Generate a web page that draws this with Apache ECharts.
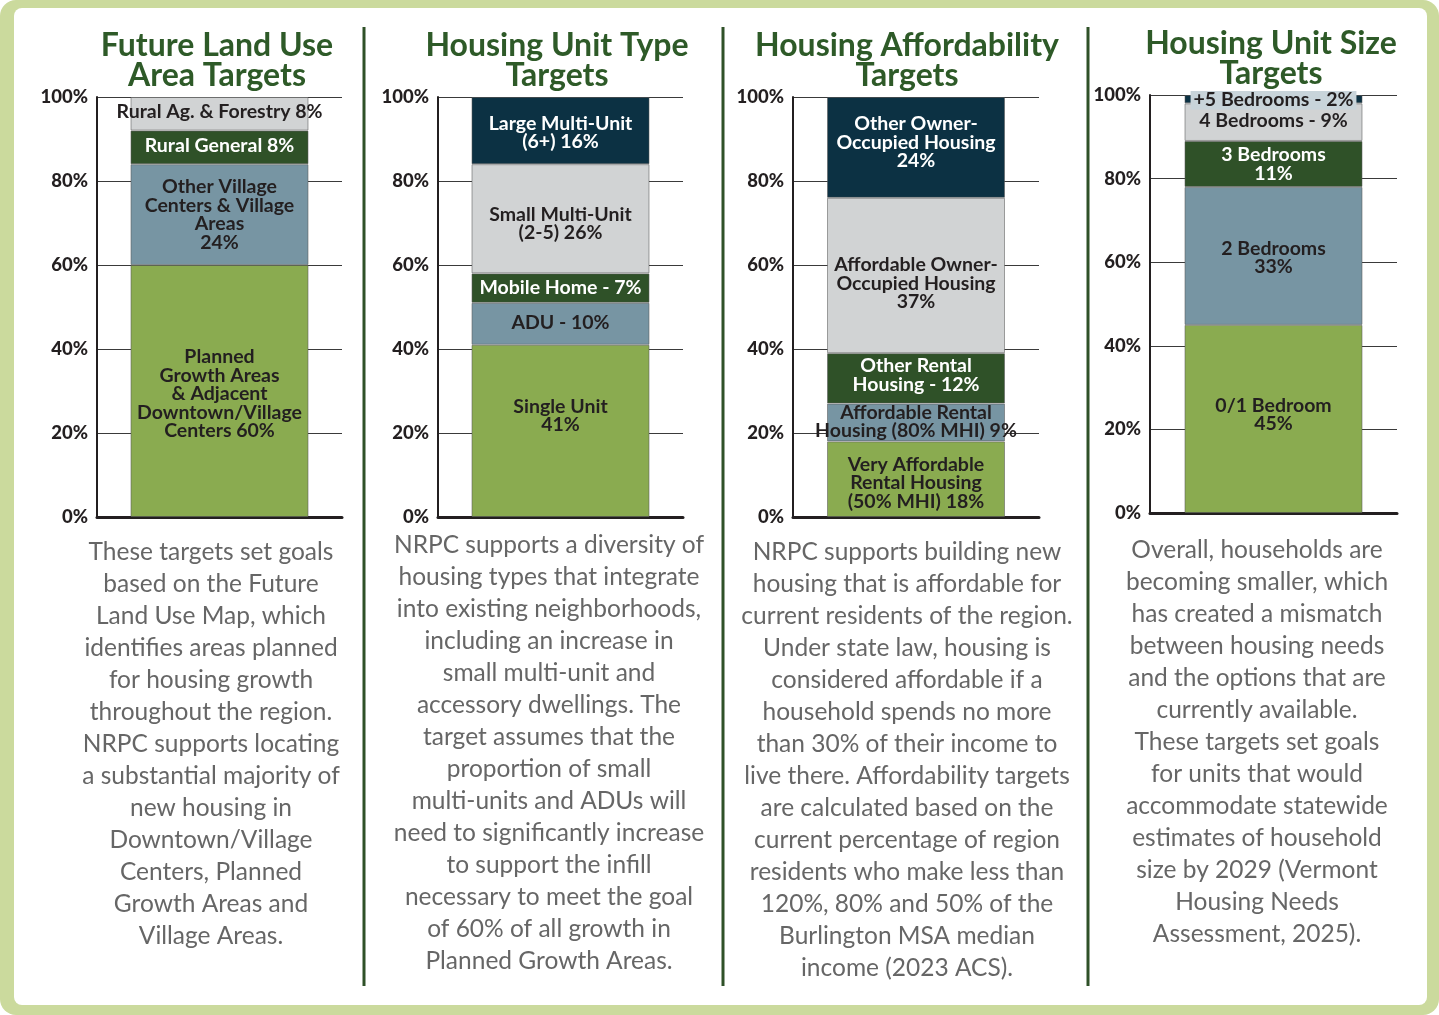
<!DOCTYPE html>
<html>
<head>
<meta charset="utf-8">
<script src="https://cdn.jsdelivr.net/npm/echarts@6/dist/echarts.min.js"></script>
<style>
  html, body { margin: 0; padding: 0; background: #fff; }
  #outer { position: absolute; left: 0; top: 0; width: 1439px; height: 1015px; background: #cbda9d; border-radius: 16px; }
  #inner { position: absolute; left: 14px; top: 8px; width: 1413px; height: 997px; background: #fff; border-radius: 8px; }
  #chart { position: absolute; left: 0; top: 0; width: 1439px; height: 1015px; }
</style>
</head>
<body>
<div id="outer"></div>
<div id="inner"></div>
<div id="chart"></div>
<script>
// ---------- DATA ----------
const panelTitles = [
  'Future Land Use\nArea Targets',
  'Housing Unit Type\nTargets',
  'Housing Affordability\nTargets',
  'Housing Unit Size\nTargets'
];

const yTickValues = [0, 20, 40, 60, 80, 100];

const landUseValues = [60, 24, 8, 8];
const landUseLabels = [
  'Planned\nGrowth Areas\n& Adjacent\nDowntown/Village\nCenters 60%',
  'Other Village\nCenters & Village\nAreas\n24%',
  'Rural General 8%',
  'Rural Ag. & Forestry 8%'
];

const unitTypeValues = [41, 10, 7, 26, 16];
const unitTypeLabels = [
  'Single Unit\n41%',
  'ADU - 10%',
  'Mobile Home - 7%',
  'Small Multi-Unit\n(2-5) 26%',
  'Large Multi-Unit\n(6+) 16%'
];

const affordabilityValues = [18, 9, 12, 37, 24];
const affordabilityLabels = [
  'Very Affordable\nRental Housing\n(50% MHI) 18%',
  'Affordable Rental\nHousing (80% MHI) 9%',
  'Other Rental\nHousing - 12%',
  'Affordable Owner-\nOccupied Housing\n37%',
  'Other Owner-\nOccupied Housing\n24%'
];

const unitSizeValues = [45, 33, 11, 9, 2];
const unitSizeLabels = [
  '0/1 Bedroom\n45%',
  '2 Bedrooms\n33%',
  '3 Bedrooms\n11%',
  '4 Bedrooms - 9%',
  '+5 Bedrooms - 2%'
];

const descriptions = [
  'These targets set goals\nbased on the Future\nLand Use Map, which\nidentifies areas planned\nfor housing growth\nthroughout the region.\nNRPC supports locating\na substantial majority of\nnew housing in\nDowntown/Village\nCenters, Planned\nGrowth Areas and\nVillage Areas.',
  'NRPC supports a diversity of\nhousing types that integrate\ninto existing neighborhoods,\nincluding an increase in\nsmall multi-unit and\naccessory dwellings. The\ntarget assumes that the\nproportion of small\nmulti-units and ADUs will\nneed to significantly increase\nto support the infill\nnecessary to meet the goal\nof 60% of all growth in\nPlanned Growth Areas.',
  'NRPC supports building new\nhousing that is affordable for\ncurrent residents of the region.\nUnder state law, housing is\nconsidered affordable if a\nhousehold spends no more\nthan 30% of their income to\nlive there. Affordability targets\nare calculated based on the\ncurrent percentage of region\nresidents who make less than\n120%, 80% and 50% of the\nBurlington MSA median\nincome (2023 ACS).',
  'Overall, households are\nbecoming smaller, which\nhas created a mismatch\nbetween housing needs\nand the options that are\ncurrently available.\nThese targets set goals\nfor units that would\naccommodate statewide\nestimates of household\nsize by 2029 (Vermont\nHousing Needs\nAssessment, 2025).'
];

// ---------- STYLE ----------
const C_GREEN = '#8aab50', C_BLUE = '#7795a3', C_DKGREEN = '#2f5128', C_GRAY = '#d1d3d4', C_NAVY = '#0c3143';
const segColors = [C_GREEN, C_BLUE, C_DKGREEN, C_GRAY, C_NAVY];
const segTextColors = ['#231f20', '#231f20', '#ffffff', '#231f20', '#ffffff'];
const TITLE_COLOR = '#2e5a28';
const DESC_COLOR = '#666666';
const FONT = 'Lato, "Open Sans", sans-serif';

const grids = [
  { left: 97,  top: 97, width: 245, height: 420 },
  { left: 438, top: 97, width: 245, height: 420 },
  { left: 793, top: 97, width: 246, height: 420 },
  { left: 1150, top: 95, width: 247, height: 418 }
];
const titleCenters = [217, 557, 907, 1271];
const titleTops = [31, 31, 31, 29];
const descCenters = [211, 549, 907, 1257];
const descTops = [536, 529, 536, 534];
const separatorsX = [364, 723, 1088];

const labelOffsets = [
  [[0, 3], [0, 0], [0, -2], [0, -2]],
  [[0, -15], [0, -1], [0, 0], [0, 5], [0, 2]],
  [[0, 4], [0, -1], [0, -3], [0, 8], [0, -5]],
  [[0, -4], [0, 2], [0, 0], [0, -1], [0, 1]]
];

const panelValues = [landUseValues, unitTypeValues, affordabilityValues, unitSizeValues];
const panelLabels = [landUseLabels, unitTypeLabels, affordabilityLabels, unitSizeLabels];

// ---------- BUILD ----------
const chart = echarts.init(document.getElementById('chart'), null, { renderer: 'canvas' });

const title = [];
panelTitles.forEach((t, i) => {
  title.push({
    text: t, left: titleCenters[i], top: titleTops[i], textAlign: 'center', padding: 0,
    textStyle: { fontFamily: FONT, fontWeight: 'bold', fontSize: 32, lineHeight: 30, color: TITLE_COLOR }
  });
});
descriptions.forEach((t, i) => {
  title.push({
    text: t, left: descCenters[i], top: descTops[i], textAlign: 'center', padding: 0,
    textStyle: { fontFamily: FONT, fontWeight: 'normal', fontSize: 24.5, lineHeight: 32, color: DESC_COLOR, align: 'center' }
  });
});

const xAxis = [], yAxis = [], series = [];
grids.forEach((g, i) => {
  xAxis.push({
    gridIndex: i, type: 'category', data: [''],
    axisLine: { show: true, lineStyle: { color: '#231f20', width: 3 } },
    axisTick: { show: false }, axisLabel: { show: false }, splitLine: { show: false }
  });
  yAxis.push({
    gridIndex: i, type: 'value', min: yTickValues[0], max: yTickValues[yTickValues.length - 1], interval: 20,
    axisLine: { show: true, lineStyle: { color: '#231f20', width: 2 } },
    axisTick: { show: false },
    axisLabel: { formatter: '{value}%', fontFamily: FONT, fontWeight: 900, fontSize: 18.5, color: '#231f20', margin: 9 },
    splitLine: { show: true, lineStyle: { color: '#3a3a3a', width: 1 } }
  });
  panelValues[i].forEach((v, k) => {
    const isPlus5 = (i === 3 && k === 4);
    series.push({
      type: 'bar', xAxisIndex: i, yAxisIndex: i, stack: 'p' + i,
      barWidth: 178, data: [v],
      itemStyle: { color: segColors[k], borderColor: 'rgba(90,90,90,0.55)', borderWidth: 1 },
      label: {
        show: true, position: 'inside', formatter: panelLabels[i][k],
        offset: labelOffsets[i][k],
        fontFamily: FONT, fontWeight: 'bold', fontSize: 19.5, lineHeight: 18.5,
        color: segTextColors[k] === '#ffffff' && isPlus5 ? '#231f20' : segTextColors[k],
        align: 'center',
        backgroundColor: isPlus5 ? '#c8d4da' : 'transparent',
        padding: isPlus5 ? [0, 3, 0, 3] : 0
      },
      emphasis: { disabled: true },
      animation: false
    });
  });
});

const graphic = separatorsX.map(x => ({
  type: 'rect', shape: { x: x - 1.5, y: 27, width: 3, height: 959 },
  style: { fill: '#2f5128' }, silent: true
}));

chart.setOption({
  animation: false,
  title, grid: grids, xAxis, yAxis, series, graphic
});
</script>
</body>
</html>
